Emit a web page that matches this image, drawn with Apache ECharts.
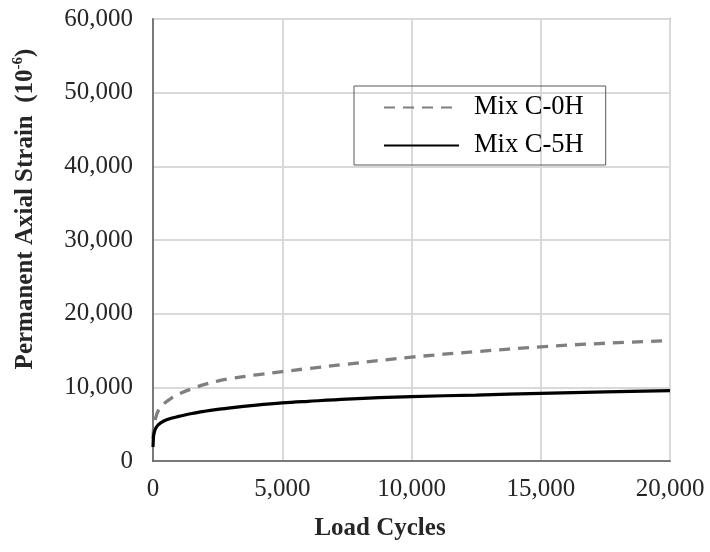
<!DOCTYPE html>
<html>
<head>
<meta charset="utf-8">
<script src="https://cdn.jsdelivr.net/npm/echarts@6/dist/echarts.min.js"></script>
<style>
  html, body { margin: 0; padding: 0; background: #ffffff; }
  #chart { width: 710px; height: 552px; }
</style>
</head>
<body>
<div id="chart"></div>
<script>
// Load cycles at which strain was sampled
const cycles = [1, 20, 50, 100, 200, 400, 700, 1000, 1500, 2000, 2500, 3000, 4000, 5000, 6000, 7500, 10000, 12500, 15000, 17500, 20000];
// Permanent axial strain (10^-6)
const mixC0H = [3000, 4300, 5000, 5800, 6800, 7700, 8500, 9100, 9800, 10400, 10850, 11200, 11700, 12130, 12550, 13150, 14100, 14850, 15500, 15990, 16350];
const mixC5H = [1900, 3300, 3900, 4400, 4900, 5400, 5800, 6050, 6450, 6750, 7000, 7220, 7580, 7880, 8100, 8400, 8750, 8950, 9180, 9380, 9560];
const seriesNames = ['Mix C-0H', 'Mix C-5H'];

const FONT = '"Liberation Serif", "Times New Roman", serif';
const pairs = (ys) => cycles.map((x, i) => [x, ys[i]]);
const fmt = (v) => v.toLocaleString('en-US');

const chart = echarts.init(document.getElementById('chart'), null, { renderer: 'canvas' });
chart.setOption({
  animation: false,
  backgroundColor: '#ffffff',
  grid: {
    left: 153, right: 40, top: 19, bottom: 91,
    show: true, borderColor: '#595959', borderWidth: 1.5, backgroundColor: 'transparent'
  },
  legend: {
    orient: 'vertical',
    left: 354, top: 86,
    data: seriesNames,
    itemWidth: 75, itemHeight: 14, itemGap: 11,
    padding: [8, 22, 6, 29],
    borderColor: '#595959', borderWidth: 1,
    itemStyle: { opacity: 0 },
    textStyle: { fontFamily: FONT, fontSize: 26.5, color: '#000000', padding: [0, 0, 0, 10] }
  },
  xAxis: {
    type: 'value', min: 0, max: 20000, interval: 5000,
    name: 'Load Cycles', nameLocation: 'middle', nameGap: 55,
    nameTextStyle: { fontFamily: FONT, fontSize: 25, fontWeight: 'bold', color: '#262626', padding: [0, 63, 0, 0] },
    axisLine: { show: true, lineStyle: { color: '#595959', width: 1.5 } },
    axisTick: { show: false },
    axisLabel: { fontFamily: FONT, fontSize: 25, color: '#262626', margin: 16, formatter: fmt },
    splitLine: { show: true, lineStyle: { color: '#d9d9d9', width: 2 } }
  },
  yAxis: {
    type: 'value', min: 0, max: 60000, interval: 10000,
    name: '{t|Permanent Axial Strain  (10}{s|-6}{t|)}', nameLocation: 'middle', nameGap: 112, nameRotate: 90,
    nameTextStyle: {
      padding: [0, 0, 0, 62],
      rich: {
        t: { fontFamily: FONT, fontSize: 25, fontWeight: 'bold', color: '#262626', lineHeight: 30 },
        s: { fontFamily: FONT, fontSize: 15, fontWeight: 'bold', color: '#262626', verticalAlign: 'top', lineHeight: 30 }
      }
    },
    axisLine: { show: true, lineStyle: { color: '#595959', width: 1.5 } },
    axisTick: { show: false },
    axisLabel: { fontFamily: FONT, fontSize: 25, color: '#262626', margin: 20, formatter: fmt },
    splitLine: { show: true, lineStyle: { color: '#d9d9d9', width: 2 } }
  },
  series: [
    {
      name: seriesNames[0], type: 'line', data: pairs(mixC0H),
      symbol: 'none', smooth: 0.35,
      lineStyle: { color: '#7f7f7f', width: 3.3, type: [11, 8] },
      itemStyle: { color: '#7f7f7f' }
    },
    {
      name: seriesNames[1], type: 'line', data: pairs(mixC5H),
      symbol: 'none', smooth: 0.35,
      lineStyle: { color: '#000000', width: 3.2, type: 'solid' },
      itemStyle: { color: '#000000' }
    }
  ]
});
</script>
</body>
</html>
